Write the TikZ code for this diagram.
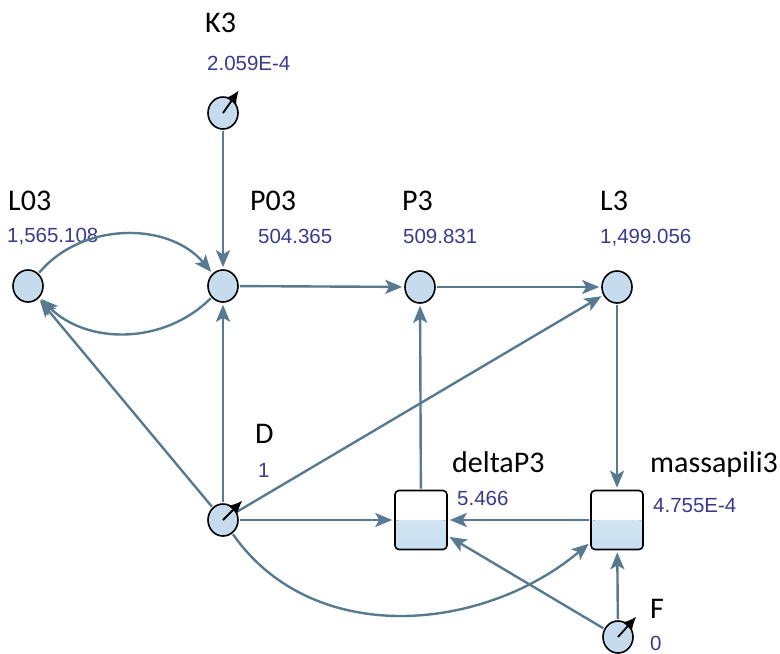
\documentclass[tikz,border=0pt]{standalone}
\usepackage{fontspec}
\setmainfont{Carlito}
\newfontfamily\valuefont{Liberation Sans}
\usetikzlibrary{arrows.meta,shapes.geometric}
\definecolor{linkblue}{RGB}{88,122,145}
\definecolor{bubble}{RGB}{198,220,238}
\definecolor{tank}{RGB}{200,223,240}
\definecolor{valink}{RGB}{58,58,140}
\begin{document}
\begin{tikzpicture}
[x=1pt,y=1pt,inner sep=0pt,
link/.style={draw=linkblue,line width=2.4pt,-{Stealth[length=17pt,width=14pt,inset=4pt]},shorten >=2pt,shorten <=1pt},
var/.style={ellipse,draw,line width=1.6pt,fill=bubble,minimum width=30pt,minimum height=32pt},
level/.style={draw,line width=1.6pt,rounded corners=4pt,minimum width=52pt,minimum height=59pt,
  path picture={\fill[top color=tank!70,bottom color=tank] (path picture bounding box.west) rectangle (path picture bounding box.south east);}},
dial/.style={line width=1.8pt,-{Latex[length=13pt,width=12pt]},shorten >=-11pt},
vname/.style={anchor=base west,font=\fontsize{30}{30}\selectfont},
vvalue/.style={anchor=base west,text=valink,font=\valuefont\fontsize{20.5}{20.5}\selectfont}]
\useasboundingbox (0,0) rectangle (780,-654);

\node[var] (K3) at (223,-113) {};
\node[var] (L03) at (28,-286) {};
\node[var] (P03) at (223,-286) {};
\node[var] (P3) at (420,-287) {};
\node[var] (L3) at (617,-287) {};
\node[var] (D) at (223,-520) {};
\node[level] (deltaP3) at (421,-520) {};
\node[level] (massapili3) at (617,-520) {};
\node[var] (F) at (618,-637) {};

\node[vname] (K3n) at (205,-32) {K3};
\node[vvalue] (K3v) at (207,-70) {2.059E-4};
\node[vname] (L03n) at (8,-210) {L03};
\node[vvalue] (L03v) at (7,-242) {1,565.108};
\node[vname] (P03n) at (250,-210) {P03};
\node[vvalue] (P03v) at (258,-243) {504.365};
\node[vname] (P3n) at (402,-210) {P3};
\node[vvalue] (P3v) at (403,-243) {509.831};
\node[vname] (L3n) at (600,-210) {L3};
\node[vvalue] (L3v) at (600,-243) {1,499.056};
\node[vname] (Dn) at (255,-443) {D};
\node[vvalue] (Dv) at (258,-477) {1};
\node[vname] (deltaP3n) at (452,-472) {deltaP3};
\node[vvalue] (deltaP3v) at (457,-505) {5.466};
\node[vname] (massapili3n) at (650,-472) {massapili3};
\node[vvalue] (massapili3v) at (653,-512) {4.755E-4};
\node[vname] (Fn) at (650,-618) {F};
\node[vvalue] (Fv) at (650,-650) {0};

\draw[link] (K3) -- (P03);
\draw[link] (L03) to[bend left=50] (P03);
\draw[link] (P03) to[bend left=45] (L03);
\draw[link] (P03) -- (P3);
\draw[link] (P3) -- (L3);
\draw[link] (D) -- (P03);
\draw[link] (D) -- (L03);
\draw[link] (D) -- (L3);
\draw[link] (D) -- (deltaP3);
\draw[link] (D) to[out=-55,in=-140] (massapili3);
\draw[link] (deltaP3) -- (P3);
\draw[link] (L3) -- (massapili3);
\draw[link] (massapili3) -- (deltaP3);
\draw[link] (F) -- (deltaP3);
\draw[link] (F) -- (massapili3);

\draw[dial] (K3.center) -- (K3.55);
\draw[dial] (D.center) -- (D.45);
\draw[dial] (F.center) -- (F.48);
\end{tikzpicture}
\end{document}
